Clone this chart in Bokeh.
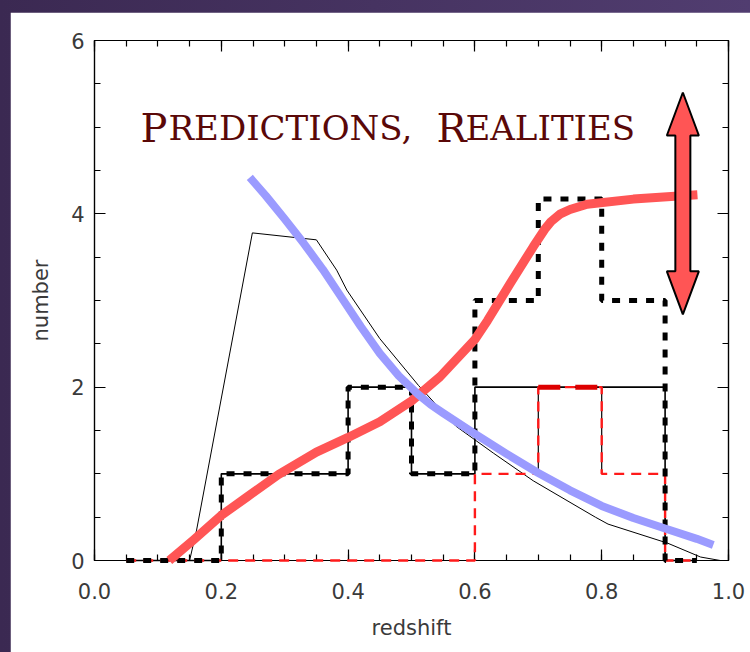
from bokeh.plotting import figure
from bokeh.models import LinearAxis, Label, FixedTicker, Range1d, PrintfTickFormatter
from bokeh.layouts import column
from bokeh.embed import file_html
from bokeh.resources import INLINE

# ---- data -------------------------------------------------------------
# histogram bin edges (redshift) and counts
bin_edges = [0.05, 0.2, 0.3, 0.4, 0.5, 0.6, 0.7, 0.8, 0.9, 0.95]
counts_all = [0, 1, 1, 2, 1, 3, 4.17, 3, 0]     # thick dashed black
counts_main = [0, 1, 1, 2, 1, 2, 2, 2, 0]       # thin solid black
counts_red = [0, 0, 0, 0, 0, 1, 2, 1, 0]        # dashed red

# model prediction (thin black curve)
model_z = [0.150, 0.161, 0.249, 0.350, 0.382, 0.398, 0.450, 0.511, 0.570,
           0.629, 0.692, 0.790, 0.810, 0.904, 0.956, 0.987]
model_n = [0.00, 0.35, 3.78, 3.70, 3.35, 3.12, 2.56, 2.02, 1.55,
           1.24, 0.92, 0.50, 0.42, 0.20, 0.04, 0.00]

# declining prediction (blue)
blue_z = [0.245, 0.270, 0.300, 0.330, 0.360, 0.390, 0.420, 0.450, 0.480,
          0.510, 0.530, 0.550, 0.600, 0.650, 0.700, 0.750, 0.800, 0.850,
          0.900, 0.950, 0.976]
blue_n = [4.42, 4.21, 3.94, 3.66, 3.36, 3.03, 2.70, 2.39, 2.13,
          1.92, 1.80, 1.70, 1.46, 1.23, 1.01, 0.81, 0.63, 0.49,
          0.37, 0.25, 0.18]

# rising prediction (red)
red_z = [0.118, 0.155, 0.200, 0.240, 0.290, 0.350, 0.400, 0.450, 0.500,
         0.545, 0.600, 0.620, 0.656, 0.692, 0.710, 0.720, 0.735, 0.750,
         0.777, 0.850, 0.951]
red_n = [0.00, 0.23, 0.52, 0.73, 0.99, 1.25, 1.42, 1.60, 1.84,
         2.12, 2.55, 2.77, 3.20, 3.62, 3.82, 3.91, 4.00, 4.05,
         4.11, 4.17, 4.22]

# double arrow: position and extent in data units
arrow_z = 0.928
arrow_low = 2.84
arrow_high = 5.40

x_ticks = [0.0, 0.2, 0.4, 0.6, 0.8, 1.0]
x_minor = [i * 0.05 for i in range(21)]
y_ticks = [0, 2, 4, 6]
y_minor = [i * 0.5 for i in range(13)]

# heading set in small capitals: (text, left pixel, font size)
title_parts = [("P", 140, 40), ("REDICTIONS,", 168, 34),
               ("R", 436, 40), ("EALITIES", 465, 34)]

# ---- figure -----------------------------------------------------------
W, H = 740, 640
BL, BR, BT, BB = 84, 22, 28, 92
frame_w = W - BL - BR
frame_h = H - BT - BB

p = figure(width=W, height=H, x_range=Range1d(0, 1), y_range=Range1d(0, 6),
           output_backend="svg", toolbar_location=None,
           min_border_left=BL, min_border_right=BR,
           min_border_top=BT, min_border_bottom=BB,
           background_fill_color="white", border_fill_color="white",
           outline_line_color="black", outline_line_width=1.2)
p.margin = (12, 0, 0, 10)
p.xgrid.visible = False
p.ygrid.visible = False

FONT = "DejaVu Sans"
LABEL_COLOR = "#3a3a3a"


def style_axis(ax, ticks, minor, fmt, show_labels):
    ax.ticker = FixedTicker(ticks=ticks, minor_ticks=minor)
    ax.formatter = PrintfTickFormatter(format=fmt)
    ax.axis_line_color = "black"
    ax.axis_line_width = 1.2
    ax.major_tick_in = 11
    ax.major_tick_out = 0
    ax.minor_tick_in = 6
    ax.minor_tick_out = 0
    ax.major_tick_line_width = 1.2
    ax.minor_tick_line_width = 1.2
    ax.major_label_text_font = FONT
    ax.major_label_text_font_size = "21px"
    ax.major_label_text_color = LABEL_COLOR if show_labels else None
    ax.axis_label_text_font = FONT
    ax.axis_label_text_font_size = "21px"
    ax.axis_label_text_font_style = "normal"
    ax.axis_label_text_color = LABEL_COLOR


style_axis(p.xaxis[0], x_ticks, x_minor, "%.1f", True)
style_axis(p.yaxis[0], y_ticks, y_minor, "%d", True)
p.xaxis[0].axis_label = "redshift"
p.yaxis[0].axis_label = "number"
p.xaxis[0].major_label_standoff = 22
p.xaxis[0].axis_label_standoff = 14
p.yaxis[0].major_label_standoff = 10
p.yaxis[0].axis_label_standoff = 15

top_ax = LinearAxis()
style_axis(top_ax, x_ticks, x_minor, "%.1f", False)
top_ax.major_label_standoff = 0
p.add_layout(top_ax, "above")
right_ax = LinearAxis()
style_axis(right_ax, y_ticks, y_minor, "%d", False)
right_ax.major_label_standoff = 0
p.add_layout(right_ax, "right")


def step_xy(edges, counts):
    xs, ys = [], []
    for i, c in enumerate(counts):
        xs += [edges[i], edges[i + 1]]
        ys += [c, c]
    return xs, ys


LVL = "overlay"  # data drawn above the axis lines

# model curve
p.line(model_z, model_n, line_color="black", line_width=1, level=LVL)

# thin solid histogram
sx, sy = step_xy(bin_edges, counts_main)
p.line(sx, sy, line_color="black", line_width=1.6, level=LVL)

# thin black edges inside the red histogram
vx, vy0, vy1 = [], [], []
for i in range(1, len(counts_red)):
    a, b = counts_red[i - 1], counts_red[i]
    if a >= 1 and b >= 1:
        vx.append(bin_edges[i])
        vy0.append(min(a, b))
        vy1.append(max(a, b))
p.segment(vx, vy0, vx, vy1, line_color="black", line_width=1.2, level=LVL)

# red dashed histogram
rx, ry = step_xy(bin_edges, counts_red)
p.line(rx, ry, line_color="#ff1a1a", line_width=2.4, line_dash="10 7", level=LVL)
k = counts_red.index(max(counts_red))
p.segment([bin_edges[k]], [counts_red[k]], [bin_edges[k + 1]], [counts_red[k]],
          line_color="#dd0000", line_width=5, line_dash="22 15", level=LVL)

# thick dashed histogram
bx, by = step_xy(bin_edges, counts_all)
p.line(bx, by, line_color="black", line_width=5, line_dash="8 9", level=LVL)

# prediction curves
p.line(red_z, red_n, line_color="#ff5555", line_width=9, line_join="round", level=LVL)
p.line(blue_z, blue_n, line_color="#9b9bff", line_width=8, line_join="round", level=LVL)

# double-headed arrow
px_x = frame_w / 1.0
px_y = frame_h / 6.0
shaft = 7.5 / px_x
head = 16.0 / px_x
hl = 43.0 / px_y
ax_ = [arrow_z, arrow_z + head, arrow_z + shaft, arrow_z + shaft, arrow_z + head,
       arrow_z, arrow_z - head, arrow_z - shaft, arrow_z - shaft, arrow_z - head]
ay_ = [arrow_high, arrow_high - hl, arrow_high - hl, arrow_low + hl, arrow_low + hl,
       arrow_low, arrow_low + hl, arrow_low + hl, arrow_high - hl, arrow_high - hl]
p.patch(ax_, ay_, fill_color="#ff5555", line_color="black", line_width=2, level=LVL)

# small-caps heading
base_y = (548 - 115) / px_y
for txt, xpix, size in title_parts:
    p.add_layout(Label(x=(xpix - 10 - BL) / px_x, y=base_y, text=txt,
                       text_font="DejaVu Serif", text_font_size=f"{size}px",
                       text_color="#5a0808", text_baseline="alphabetic"))

page = column(p, styles={"background": "linear-gradient(to right, #3b2952, #513d70)"})
open("out.html", "w").write(file_html(page, INLINE))
